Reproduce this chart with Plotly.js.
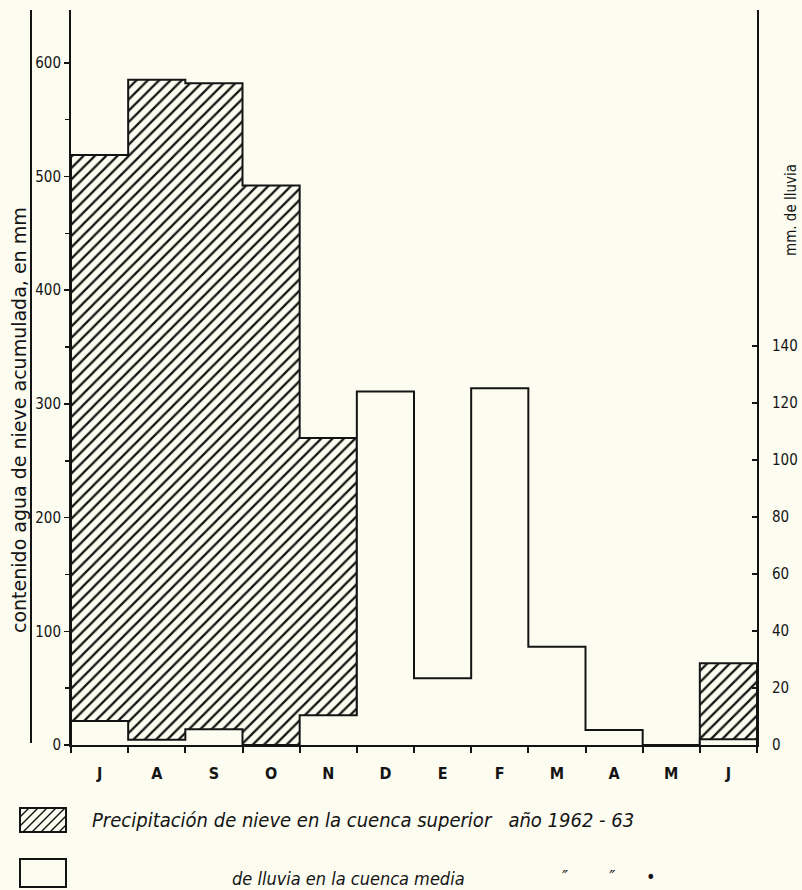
<!DOCTYPE html>
<html><head><meta charset="utf-8">
<script src="https://cdn.plot.ly/plotly-3.0.1.min.js"></script>
<style>html,body{margin:0;padding:0;background:#fcfcf1;} #chart{width:802px;height:890px;}</style>
</head><body><div id="chart"></div>
<script>
// ---- data ----
const months = ['J','A','S','O','N','D','E','F','M','A','M','J'];
const snowMM = [519, 585, 582, 492, 270, 0, 0, 0, 0, 0, 0, 72];          // left axis, mm water content
const rainMM = [8.4, 1.8, 5.5, 0, 10.4, 124, 23.4, 125.2, 34.5, 5.3, 0, 2]; // right axis, mm of rain
const leftTicks = [0, 100, 200, 300, 400, 500, 600];
const leftMinor = [50, 150, 250, 350, 450, 550];
const rightTicks = [0, 20, 40, 60, 80, 100, 120, 140];
const leftTitle = 'contenido agua de nieve acumulada, en mm';
const rightTitle = 'mm. de lluvia';
const legendSnow = 'Precipitación de nieve en la cuenca superior&nbsp;&nbsp;&nbsp;año 1962 - 63';
const legendRain = 'de lluvia en la cuenca media';
const legendDitto = '″&nbsp;&nbsp;&nbsp;&nbsp;&nbsp;&nbsp;&nbsp;&nbsp;″&nbsp;&nbsp;&nbsp;&nbsp;&nbsp;&nbsp;•';

// ---- styling ----
const BG = '#fcfcf1';
const INK = '#141414';
const W = 802, H = 890;
const M = {l: 71, r: 45, t: 10, b: 145};
const PW = W - M.l - M.r, PH = H - M.t - M.b;
const fx = px => (px - M.l) / PW;
const fy = py => (H - M.b - py) / PH;
const FONT = '"DejaVu Sans Condensed", "DejaVu Sans", sans-serif';
const FONTW = '"DejaVu Sans", sans-serif';

const idx = months.map((_, i) => i);
const bounds = months.map((_, i) => i - 0.5).concat([months.length - 0.5]);

function step(vals) {
  const xs = [-0.5], ys = [0];
  vals.forEach((v, i) => { xs.push(i - 0.5); ys.push(v); });
  xs.push(vals.length - 0.5, vals.length - 0.5);
  ys.push(vals[vals.length - 1], 0);
  return {xs, ys};
}
const sSnow = step(snowMM), sRain = step(rainMM);

const traces = [
  {type: 'bar', x: idx, y: snowMM, width: 1, yaxis: 'y', name: 'nieve',
   marker: {color: BG, line: {width: 0},
            pattern: {shape: '/', fgcolor: INK, bgcolor: BG, size: 8, solidity: 0.28, fillmode: 'replace'}},
   showlegend: false, hoverinfo: 'skip'},
  {type: 'scatter', mode: 'lines', x: sSnow.xs, y: sSnow.ys, yaxis: 'y',
   line: {color: INK, width: 2, shape: 'hv'}, showlegend: false, hoverinfo: 'skip'},
  {type: 'bar', x: idx, y: rainMM, width: 1, yaxis: 'y2', name: 'lluvia',
   marker: {color: BG, line: {width: 0}}, showlegend: false, hoverinfo: 'skip'},
  {type: 'scatter', mode: 'lines', x: sRain.xs, y: sRain.ys, yaxis: 'y2',
   line: {color: INK, width: 2, shape: 'hv'}, showlegend: false, hoverinfo: 'skip'}
];

// outer frame line and legend swatches (decoration)
const shapes = [
  {type: 'line', xref: 'paper', yref: 'paper', x0: fx(31), x1: fx(31), y0: fy(743), y1: fy(10),
   line: {color: INK, width: 2}},
  {type: 'rect', xref: 'paper', yref: 'paper', x0: fx(20), x1: fx(66), y0: fy(832), y1: fy(808),
   line: {color: INK, width: 2}, fillcolor: BG},
  {type: 'rect', xref: 'paper', yref: 'paper', x0: fx(20), x1: fx(66), y0: fy(887), y1: fy(859),
   line: {color: INK, width: 2}, fillcolor: BG}
];
(function hatch(x0, x1, y0, y1, s) {
  for (let c = x0 + y0 + s; c < x1 + y1; c += s) {
    const xa = Math.max(x0, c - y1), xb = Math.min(x1, c - y0);
    if (xb <= xa) continue;
    shapes.push({type: 'line', xref: 'paper', yref: 'paper',
      x0: fx(xa), y0: fy(c - xa), x1: fx(xb), y1: fy(c - xb), line: {color: INK, width: 1.4}});
  }
})(20, 66, 808, 832, 9);

const annotations = [
  {text: leftTitle, xref: 'paper', yref: 'paper', x: fx(19), y: fy(420), textangle: -90,
   showarrow: false, xanchor: 'center', yanchor: 'middle', font: {family: FONTW, size: 19, color: INK}},
  {text: rightTitle, xref: 'paper', yref: 'paper', x: fx(791), y: fy(210), textangle: -90,
   showarrow: false, xanchor: 'center', yanchor: 'middle', font: {family: FONT, size: 15, color: INK}},
  {text: '<i>' + legendSnow + '</i>', xref: 'paper', yref: 'paper', x: fx(90), y: fy(820),
   showarrow: false, xanchor: 'left', yanchor: 'middle', font: {family: FONT, size: 20, color: INK}},
  {text: '<i>' + legendRain + '</i>', xref: 'paper', yref: 'paper', x: fx(230), y: fy(878),
   showarrow: false, xanchor: 'left', yanchor: 'middle', font: {family: FONT, size: 18, color: INK}},
  {text: '<i>' + legendDitto + '</i>', xref: 'paper', yref: 'paper', x: fx(560), y: fy(876),
   showarrow: false, xanchor: 'left', yanchor: 'middle', font: {family: FONT, size: 18, color: INK}}
];

const layout = {
  width: W, height: H, margin: M,
  paper_bgcolor: BG, plot_bgcolor: BG,
  barmode: 'overlay', bargap: 0, showlegend: false,
  font: {family: FONT, color: INK},
  xaxis: {range: [-0.5, 11.5], showline: true, linecolor: INK, linewidth: 2, showgrid: false, zeroline: false,
          tickmode: 'array', tickvals: idx, ticktext: months, ticks: '', ticklabelstandoff: 13,
          tickfont: {family: FONT, size: 16, color: INK, weight: 'bold'},
          minor: {tickmode: 'array', tickvals: bounds, ticks: 'outside', ticklen: 6, tickwidth: 2, tickcolor: INK, showgrid: false}},
  yaxis: {range: [0, PH / 1.137], showline: true, linecolor: INK, linewidth: 2, showgrid: false, zeroline: false,
          tickmode: 'array', tickvals: leftTicks, ticks: 'outside', ticklen: 5, tickwidth: 1.5, tickcolor: INK,
          tickfont: {family: FONT, size: 15, color: INK},
          minor: {tickmode: 'array', tickvals: leftMinor, ticks: 'outside', ticklen: 4, tickwidth: 1.5, tickcolor: INK, showgrid: false}},
  yaxis2: {overlaying: 'y', side: 'right', range: [0, PH / 2.85], showline: true, linecolor: INK, linewidth: 2,
           showgrid: false, zeroline: false, tickmode: 'array', tickvals: rightTicks, ticks: 'inside', ticklen: 5,
           tickwidth: 1.5, tickcolor: INK, ticklabelstandoff: 10, tickfont: {family: FONT, size: 15, color: INK}},
  shapes: shapes, annotations: annotations
};

Plotly.newPlot('chart', traces, layout, {staticPlot: true, displayModeBar: false});
</script>
</body></html>
